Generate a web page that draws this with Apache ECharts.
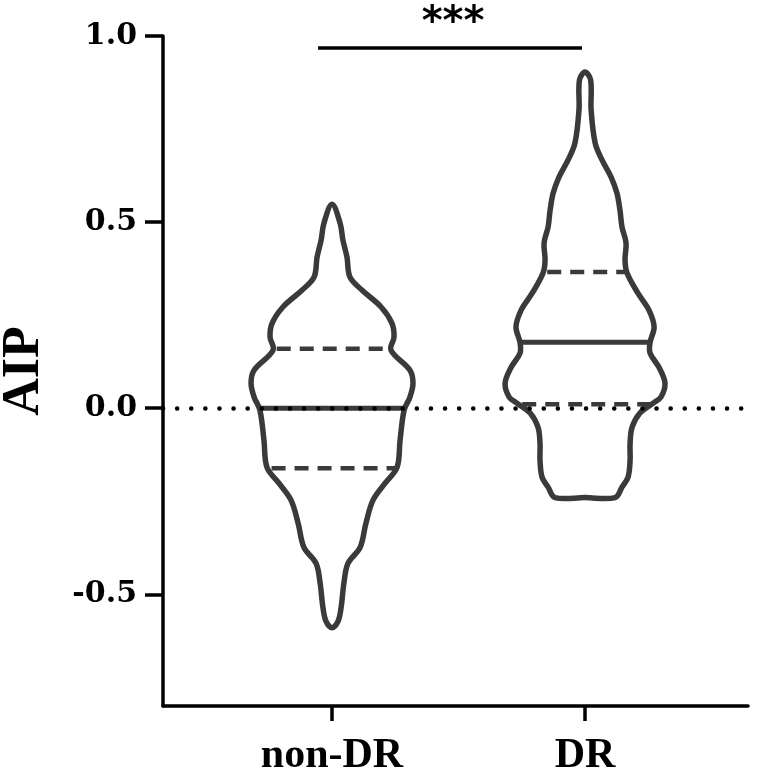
<!DOCTYPE html>
<html><head><meta charset="utf-8">
<script src="https://cdn.jsdelivr.net/npm/echarts@6/dist/echarts.min.js"></script>
<style>html,body{margin:0;padding:0;background:#fff}#c{width:768px;height:779px}</style>
</head><body><div id="c"></div>
<script>
// ---- data ----
const categories = ['non-DR', 'DR'];
const catPos = [1, 2];
const yTicks = [-0.5, 0.0, 0.5, 1.0];

// violin outlines: y values and half-widths (in x-axis units)
const nonDR_y = [0.548, 0.497, 0.452, 0.406, 0.352, 0.317, 0.272, 0.228, 0.191, 0.156, 0.102, 0.067, 0.030, -0.005, -0.086, -0.159, -0.202, -0.247, -0.309, -0.374, -0.417, -0.470, -0.535, -0.572, -0.590];
const nonDR_w = [0, 0.032, 0.043, 0.059, 0.071, 0.119, 0.194, 0.237, 0.245, 0.233, 0.308, 0.320, 0.308, 0.285, 0.269, 0.257, 0.209, 0.162, 0.134, 0.111, 0.063, 0.047, 0.036, 0.024, 0];
const DR_y = [0.903, 0.882, 0.801, 0.712, 0.667, 0.621, 0.578, 0.532, 0.487, 0.444, 0.398, 0.363, 0.309, 0.263, 0.218, 0.177, 0.148, 0.110, 0.067, 0.030, 0.013, -0.013, -0.051, -0.094, -0.140, -0.185, -0.212, -0.240, -0.240];
const DR_w = [0, 0.022, 0.024, 0.040, 0.067, 0.103, 0.126, 0.138, 0.146, 0.162, 0.158, 0.166, 0.209, 0.253, 0.273, 0.257, 0.257, 0.292, 0.316, 0.300, 0.268, 0.217, 0.186, 0.178, 0.178, 0.170, 0.146, 0.119, 0];

// quartiles per group
const q3 = [0.160, 0.366];
const median = [0.000, 0.177];
const q1 = [-0.161, 0.011];

// significance bracket
const sigX = [0.945, 1.988];
const sigY = 0.968;
const sigLabel = '***';

// ---- rendering ----
const profY = [nonDR_y, DR_y];
const profW = [nonDR_w, DR_w];
const INK = '#3a3a3a';

function halfAt(ys, ws, y) {
  for (let k = 0; k < ys.length - 1; k++) {
    const a = ys[k], b = ys[k + 1];
    if ((y <= a && y >= b)) {
      if (a === b) return Math.max(ws[k], ws[k + 1]);
      const t = (a - y) / (a - b);
      return ws[k] + t * (ws[k + 1] - ws[k]);
    }
  }
  return 0;
}

function renderViolin(params, api) {
  const i = params.dataIndex;
  const cx = api.value(0);
  const ys = profY[i], ws = profW[i];
  const n = ys.length;
  const pts = [];
  if (ws[0] === 0) pts.push(api.coord([cx, ys[0]]));
  for (let k = 0; k < n; k++) if (ws[k] > 0) pts.push(api.coord([cx + ws[k], ys[k]]));
  if (ws[n - 1] === 0) pts.push(api.coord([cx, ys[n - 1]]));
  for (let k = n - 1; k >= 0; k--) if (ws[k] > 0) pts.push(api.coord([cx - ws[k], ys[k]]));

  const children = [];
  const lines = [[q3[i], true], [median[i], false], [q1[i], true]];
  lines.forEach(([q, dashed]) => {
    const hw = halfAt(ys, ws, q);
    const p1 = api.coord([cx - hw, q]);
    const p2 = api.coord([cx + hw, q]);
    children.push({
      type: 'line',
      shape: { x1: p1[0], y1: p1[1], x2: p2[0], y2: p2[1] },
      style: { stroke: INK, lineWidth: dashed ? 4.5 : 5, lineDash: dashed ? [14, 9] : null, lineDashOffset: dashed ? -4 : 0 }
    });
  });
  children.push({
    type: 'polygon',
    shape: { points: pts, smooth: 0.35 },
    style: { fill: 'none', stroke: INK, lineWidth: 5.5, lineJoin: 'round' }
  });
  return { type: 'group', children };
}

function renderSig(params, api) {
  const p1 = api.coord([sigX[0], sigY]);
  const p2 = api.coord([sigX[1], sigY]);
  return {
    type: 'group',
    children: [
      { type: 'line', shape: { x1: p1[0], y1: p1[1], x2: p2[0], y2: p2[1] }, style: { stroke: '#000', lineWidth: 3.5 } },
      { type: 'text', style: { text: sigLabel, x: (p1[0] + p2[0]) / 2 + 3, y: p1[1] - 24, align: 'center', verticalAlign: 'middle', font: 'bold 40px "DejaVu Sans"', fill: '#000' } }
    ]
  };
}

const chart = echarts.init(document.getElementById('c'), null, { renderer: 'canvas' });
chart.setOption({
  animation: false,
  backgroundColor: '#fff',
  grid: { left: 163, right: 20, top: 36, bottom: 73, containLabel: false, outerBoundsMode: 'none' },
  xAxis: {
    type: 'value', min: 0.332, max: 2.644,
    axisLine: { show: true, onZero: false, lineStyle: { color: '#000', width: 3.5 } },
    axisTick: { show: true, customValues: catPos, length: 15, lineStyle: { color: '#000', width: 3.5 } },
    axisLabel: { customValues: catPos, formatter: v => categories[Math.round(v) - 1], margin: 29, color: '#000', fontFamily: 'Liberation Serif', fontWeight: 'bold', fontSize: 42 },
    splitLine: { show: false }
  },
  yAxis: {
    type: 'value', min: -0.8, max: 1.0,
    axisLine: { show: true, onZero: false, lineStyle: { color: '#000', width: 3.5 } },
    axisTick: { show: true, customValues: yTicks, length: 18, lineStyle: { color: '#000', width: 3.5 } },
    axisLabel: { customValues: yTicks, formatter: v => v.toFixed(1), margin: 26, color: '#000', fontFamily: 'DejaVu Serif', fontWeight: 'bold', fontSize: 30 },
    splitLine: { show: false },
    name: 'AIP', nameLocation: 'middle', nameGap: 112,
    nameTextStyle: { fontFamily: 'Liberation Serif', fontWeight: 'bold', fontSize: 52, color: '#000' }
  },
  series: [
    {
      type: 'line', data: [], silent: true,
      markLine: {
        silent: true, symbol: ['none', 'none'], label: { show: false },
        lineStyle: { type: [0.1, 14], cap: 'round', width: 4.5, color: '#000' },
        data: [{ yAxis: 0 }]
      }
    },
    {
      type: 'custom', renderItem: renderViolin, z: 3,
      data: catPos.map((x, i) => [x, i]),
      encode: { x: 0, y: 1 }
    },
    {
      type: 'custom', renderItem: renderSig, z: 4,
      data: [[sigX[0], sigY]],
      encode: { x: 0, y: 1 }
    }
  ]
});
</script>
</body></html>
